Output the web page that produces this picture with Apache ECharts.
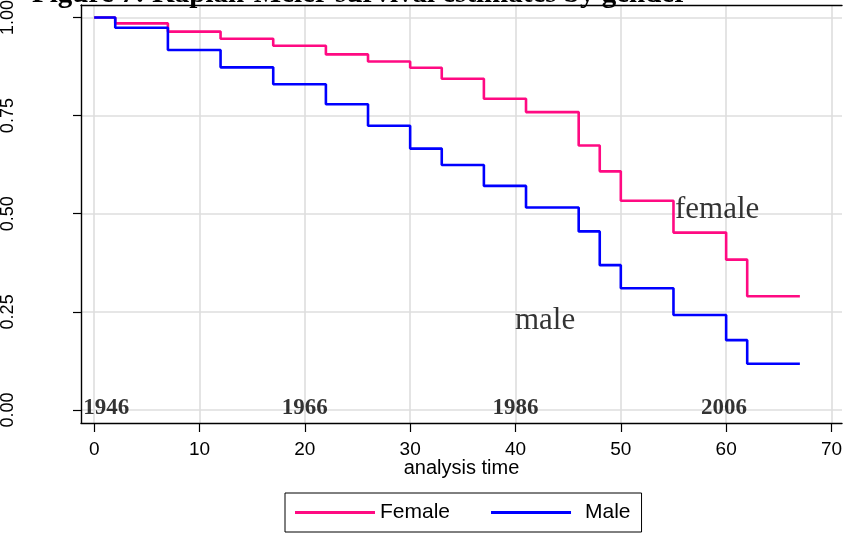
<!DOCTYPE html>
<html>
<head>
<meta charset="utf-8">
<script src="https://cdn.jsdelivr.net/npm/echarts@6/dist/echarts.min.js"></script>
<style>
  html, body { margin: 0; padding: 0; background: #fff; }
  #chart { width: 845px; height: 535px; }
</style>
</head>
<body>
<div id="chart"></div>
<script>
// Kaplan-Meier step estimates: survival value holding from each event time onward
const times      = [0, 2, 7, 12, 17, 22, 26, 30, 33, 37, 41, 46, 48, 50, 55, 60, 62, 67];
const femaleSurv = [1.000, 0.985, 0.964, 0.946, 0.928, 0.906, 0.888, 0.872, 0.844, 0.793, 0.759, 0.674, 0.608, 0.533, 0.452, 0.383, 0.290, 0.290];
const maleSurv   = [1.000, 0.974, 0.917, 0.873, 0.830, 0.779, 0.724, 0.666, 0.624, 0.571, 0.516, 0.455, 0.369, 0.310, 0.242, 0.178, 0.118, 0.118];

const seriesNames = ['Female', 'Male'];
const xTicks = [0, 10, 20, 30, 40, 50, 60, 70];
const yTicks = [0, 0.25, 0.5, 0.75, 1];

// calendar-year markers along the baseline
const yearLabels = ['1946', '1966', '1986', '2006'];
const yearTimes  = [1.14, 20, 40, 59.8];
const yearLevel  = 0.005;

// curve annotations
const curveLabels = ['female', 'male'];
const curveLabelTimes = [55.1, 39.9];
const curveLabelLevels = [0.511, 0.228];

const titleText = 'Figure 7: Kaplan-Meier survival estimates by gender';

const xMin = -1.25, xMax = 71;
const yMin = -0.0331, yMax = 1.0318;

const chart = echarts.init(document.getElementById('chart'), null, { renderer: 'canvas' });

const sans = '"Liberation Sans", Arial, sans-serif';
const serif = '"Liberation Serif", "Times New Roman", serif';

const toPairs = (xs, ys) => xs.map((x, i) => [x, ys[i]]);

chart.setOption({
  animation: false,
  backgroundColor: '#fff',
  graphic: [{
    type: 'text',
    x: 32,
    y: 9.5,
    z: 100,
    style: {
      text: titleText,
      font: 'bold 29px ' + serif,
      fill: '#000',
      verticalAlign: 'bottom'
    }
  }],
  grid: { left: 81, top: 5, right: 3, bottom: 112, containLabel: false, outerBoundsMode: 'none' },
  legend: {
    data: [{ name: 'Female' }, { name: 'Male', textStyle: { padding: [0, 0, 0, 9] } }],
    left: 285,
    top: 493,
    orient: 'horizontal',
    icon: 'rect',
    itemWidth: 80,
    itemHeight: 3,
    itemGap: 41,
    padding: [9, 11, 9, 10],
    borderColor: '#000',
    borderWidth: 1,
    borderRadius: 0,
    textStyle: { fontSize: 21, fontFamily: sans, color: '#000' }
  },
  xAxis: [{
    type: 'value',
    min: xMin,
    max: xMax,
    name: 'analysis time',
    nameLocation: 'middle',
    nameGap: 35,
    nameMoveOverlap: false,
    nameTextStyle: { fontSize: 20, fontFamily: sans, color: '#000' },
    axisLine: { show: true, onZero: false, lineStyle: { color: '#000', width: 1.4 } },
    axisTick: { show: true, inside: false, length: 9, customValues: xTicks, lineStyle: { color: '#000', width: 1.2 } },
    axisLabel: { customValues: xTicks, margin: 17, fontSize: 19, fontFamily: sans, color: '#000' },
    splitLine: { show: true, lineStyle: { color: '#dedede', width: 1.6 } }
  }, {
    type: 'value',
    position: 'top',
    min: xMin,
    max: xMax,
    axisLine: { show: true, onZero: false, lineStyle: { color: '#000', width: 1.4 } },
    axisTick: { show: false },
    axisLabel: { show: false },
    splitLine: { show: false }
  }],
  yAxis: {
    type: 'value',
    min: yMin,
    max: yMax,
    axisLine: { show: true, onZero: false, lineStyle: { color: '#000', width: 1.4 } },
    axisTick: { show: true, inside: false, length: 8, customValues: yTicks, lineStyle: { color: '#000', width: 1.2 } },
    axisLabel: {
      customValues: yTicks,
      rotate: 90,
      margin: 64,
      fontSize: 18,
      fontFamily: sans,
      color: '#000',
      formatter: v => v.toFixed(2)
    },
    splitLine: { show: true, lineStyle: { color: '#dedede', width: 1.6 } }
  },
  series: [{
    name: seriesNames[0],
    type: 'line',
    step: 'end',
    symbol: 'none',
    color: '#ff0a82',
    lineStyle: { color: '#ff0a82', width: 2.6 },
    data: toPairs(times, femaleSurv),
    z: 3
  }, {
    name: seriesNames[1],
    type: 'line',
    step: 'end',
    symbol: 'none',
    color: '#0000ff',
    lineStyle: { color: '#0000ff', width: 2.6 },
    data: toPairs(times, maleSurv),
    z: 3
  }, {
    name: 'years',
    type: 'scatter',
    symbolSize: 1,
    itemStyle: { color: 'rgba(0,0,0,0)' },
    silent: true,
    z: 5,
    label: {
      show: true,
      position: 'inside',
      align: 'center',
      verticalAlign: 'middle',
      formatter: p => p.name,
      fontFamily: serif,
      fontWeight: 'bold',
      fontSize: 23,
      color: '#000',
      textBorderWidth: 0
    },
    data: yearLabels.map((s, i) => ({ name: s, value: [yearTimes[i], yearLevel] }))
  }, {
    name: 'curves',
    type: 'scatter',
    symbolSize: 1,
    itemStyle: { color: 'rgba(0,0,0,0)' },
    silent: true,
    z: 5,
    label: {
      show: true,
      position: 'right',
      distance: 0,
      align: 'left',
      verticalAlign: 'middle',
      formatter: p => p.name,
      fontFamily: serif,
      fontSize: 31,
      color: '#000',
      textBorderWidth: 0
    },
    data: curveLabels.map((s, i) => ({ name: s, value: [curveLabelTimes[i], curveLabelLevels[i]] }))
  }]
});
</script>
</body>
</html>
